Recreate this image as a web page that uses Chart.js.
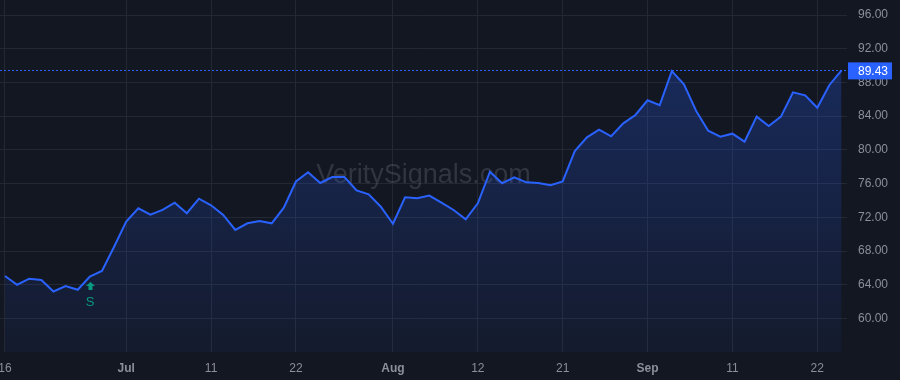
<!DOCTYPE html>
<html>
<head>
<meta charset="utf-8">
<title>VeritySignals</title>
<script src="https://cdn.jsdelivr.net/npm/chart.js@4.4.1/dist/chart.umd.min.js"></script>
<style>
    html, body { margin: 0; padding: 0; background: #131722; }
    #contenedor { width: 900px; height: 380px; }
</style>
</head>
<body>
<div id="contenedor"><canvas id="grafico" width="900" height="380"></canvas></div>
<script>
// fechas de cada sesion (16 jun - 24 sep)
const fechas = [
    '06-16', '06-17', '06-18', '06-20', '06-23', '06-24', '06-25', '06-26', '06-27', '06-30',
    '07-01', '07-02', '07-03', '07-07', '07-08', '07-09', '07-10', '07-11', '07-14', '07-15',
    '07-16', '07-17', '07-18', '07-21', '07-22', '07-23', '07-24', '07-25', '07-28', '07-29',
    '07-30', '07-31', '08-01', '08-04', '08-05', '08-06', '08-07', '08-08', '08-11', '08-12',
    '08-13', '08-14', '08-15', '08-18', '08-19', '08-20', '08-21', '08-22', '08-25', '08-26',
    '08-27', '08-28', '08-29', '09-02', '09-03', '09-04', '09-05', '09-08', '09-09', '09-10',
    '09-11', '09-12', '09-15', '09-16', '09-17', '09-18', '09-19', '09-22', '09-23', '09-24'
];

const valores = [
    65.04, 64.00, 64.72, 64.57, 63.20, 63.85, 63.40, 64.96, 65.63, 68.50,
    71.48, 73.07, 72.31, 72.87, 73.74, 72.48, 74.21, 73.42, 72.28, 70.50,
    71.29, 71.56, 71.29, 73.14, 76.25, 77.34, 76.07, 76.78, 76.78, 75.20,
    74.73, 73.26, 71.24, 74.37, 74.25, 74.57, 73.74, 72.87, 71.76, 73.66,
    77.41, 76.03, 76.74, 76.15, 76.07, 75.80, 76.25, 79.85, 81.49, 82.40,
    81.61, 83.15, 84.14, 85.88, 85.29, 89.35, 87.78, 84.65, 82.28, 81.57,
    81.92, 80.97, 83.94, 82.83, 83.94, 86.83, 86.47, 85.00, 87.70, 89.43
];

// etiquetas del eje x (posicion = indice de la sesion)
const tickSesiones = [0, 10, 17, 24, 32, 39, 46, 53, 60, 67];
const tickTextos = ['16', 'Jul', '11', '22', 'Aug', '12', '21', 'Sep', '11', '22'];
const meses = ['Jul', 'Aug', 'Sep'];

const tickPrecios = [60, 64, 68, 72, 76, 80, 84, 88, 92, 96];

// senal de compra
const senalSesion = 7;
const senalTexto = 'S';

const marcaAgua = 'VeritySignals.com';
const ultimo = valores[valores.length - 1];

const fuente = '"Liberation Sans", Arial, sans-serif';
const gris = '#8b8f9a';
const azul = '#2962ff';
const verde = '#089981';

const puntos = valores.map((v, i) => ({ x: i, y: v }));

const pluginFondo = {
    id: 'fondo',
    beforeDraw: (chart) => {
        const ctx = chart.ctx;
        ctx.save();
        ctx.fillStyle = '#131722';
        ctx.fillRect(0, 0, chart.width, chart.height);
        ctx.restore();
    },
    beforeDatasetsDraw: (chart) => {
        const { ctx, chartArea } = chart;
        ctx.save();
        ctx.font = '27px ' + fuente;
        ctx.fillStyle = 'rgba(120, 124, 136, 0.3)';
        ctx.textAlign = 'center';
        ctx.textBaseline = 'middle';
        ctx.fillText(marcaAgua, (chartArea.left + chartArea.right) / 2, (chartArea.top + chartArea.bottom) / 2);
        ctx.restore();
    }
};

const pluginExtras = {
    id: 'extras',
    afterDatasetsDraw: (chart) => {
        const { ctx, chartArea } = chart;
        const x = chart.scales.x;
        const y = chart.scales.y;

        // linea punteada del ultimo precio
        const yUlt = Math.round(y.getPixelForValue(ultimo)) + 0.5;
        ctx.save();
        ctx.strokeStyle = azul;
        ctx.lineWidth = 1;
        ctx.setLineDash([2, 2]);
        ctx.beginPath();
        ctx.moveTo(chartArea.left, yUlt);
        ctx.lineTo(chartArea.right, yUlt);
        ctx.stroke();
        ctx.restore();

        // flecha de la senal
        const sx = Math.round(x.getPixelForValue(senalSesion)) + 0.5;
        const sy = Math.round(y.getPixelForValue(valores[senalSesion])) + 5;
        ctx.save();
        ctx.fillStyle = verde;
        ctx.beginPath();
        ctx.moveTo(sx, sy);
        ctx.lineTo(sx + 4.5, sy + 4);
        ctx.lineTo(sx + 2, sy + 4);
        ctx.lineTo(sx + 2, sy + 8);
        ctx.lineTo(sx - 2, sy + 8);
        ctx.lineTo(sx - 2, sy + 4);
        ctx.lineTo(sx - 4.5, sy + 4);
        ctx.closePath();
        ctx.fill();
        ctx.font = '13px ' + fuente;
        ctx.textAlign = 'center';
        ctx.textBaseline = 'middle';
        ctx.fillText(senalTexto, sx - 0.5, sy + 20);
        ctx.restore();
    },
    afterDraw: (chart) => {
        const { ctx, chartArea } = chart;
        const y = chart.scales.y;
        const yUlt = y.getPixelForValue(ultimo);
        ctx.save();
        ctx.fillStyle = azul;
        ctx.fillRect(chartArea.right + 1, yUlt - 8, 44, 17);
        ctx.fillStyle = '#ffffff';
        ctx.font = '12px ' + fuente;
        ctx.textAlign = 'left';
        ctx.textBaseline = 'middle';
        ctx.fillText(ultimo.toFixed(2), chartArea.right + 11, yUlt + 1);
        ctx.restore();
    }
};

const graficoCanvas = document.getElementById('grafico');
const ctxGrafico = graficoCanvas.getContext('2d');

const relleno = (context) => {
    const area = context.chart.chartArea;
    if (!area) return 'rgba(41, 98, 255, 0.1)';
    const g = ctxGrafico.createLinearGradient(0, area.top, 0, area.bottom);
    g.addColorStop(0, 'rgba(41, 98, 255, 0.30)');
    g.addColorStop(1, 'rgba(41, 98, 255, 0.05)');
    return g;
};

const chart = new Chart(graficoCanvas, {
    type: 'line',
    data: {
        datasets: [{
            label: 'Precio',
            data: puntos,
            borderColor: azul,
            borderWidth: 2,
            backgroundColor: relleno,
            fill: 'start',
            pointRadius: 0,
            tension: 0
        }]
    },
    options: {
        responsive: false,
        animation: false,
        layout: { padding: 0 },
        plugins: {
            legend: { display: false },
            tooltip: { enabled: false }
        },
        scales: {
            x: {
                type: 'linear',
                min: -0.41,
                max: 69.45,
                afterBuildTicks: (scale) => {
                    scale.ticks = tickSesiones.map(v => ({ value: v }));
                },
                afterFit: (scale) => {
                    scale.height = 28;
                    scale.paddingLeft = 0;
                    scale.paddingRight = 0;
                },
                grid: { color: '#242834', drawTicks: false },
                border: { display: false },
                ticks: {
                    autoSkip: false,
                    maxRotation: 0,
                    padding: 9,
                    color: gris,
                    font: (c) => ({
                        family: fuente,
                        size: 12,
                        weight: (c.tick && meses.includes(tickTextos[tickSesiones.indexOf(c.tick.value)])) ? 'bold' : 'normal'
                    }),
                    callback: (v) => {
                        const k = tickSesiones.indexOf(v);
                        return k >= 0 ? tickTextos[k] : '';
                    }
                }
            },
            y: {
                position: 'right',
                min: 56.02,
                max: 97.78,
                afterBuildTicks: (scale) => {
                    scale.ticks = tickPrecios.map(v => ({ value: v }));
                },
                afterFit: (scale) => {
                    scale.width = 53;
                    scale.paddingTop = 0;
                    scale.paddingBottom = 0;
                },
                grid: { color: '#242834', drawTicks: false },
                border: { display: false },
                ticks: {
                    padding: 11,
                    color: gris,
                    font: { family: fuente, size: 12 },
                    callback: (v) => Number(v).toFixed(2)
                }
            }
        }
    },
    plugins: [pluginFondo, pluginExtras]
});
</script>
</body>
</html>
